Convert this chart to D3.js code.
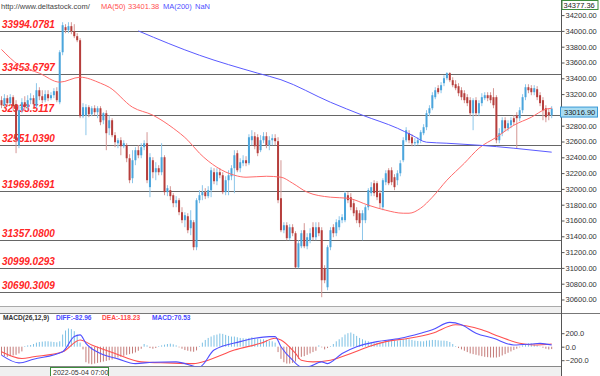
<!DOCTYPE html>
<html><head><meta charset="utf-8">
<script src="https://cdn.jsdelivr.net/npm/d3@7/dist/d3.min.js"></script>
<style>body{margin:0;background:#fff;}svg{display:block;font-family:"Liberation Sans",Arial,sans-serif;}</style>
</head><body>
<svg id="c" width="600" height="376"></svg>
<script>
const opens = [
33123,33059,33148,33085,33161,33072,32553,32996,33097,33034,
33123,33148,33047,33249,33173,33123,33199,33148,33186,33237,
33097,33730,34047,34009,34060,33996,33933,33882,32920,32933,
33034,32945,33021,32971,33021,32869,32958,32768,32869,32680,
32578,32616,32540,32553,32388,32135,32363,32490,32426,32528,
32578,32022,32363,32211,32262,32211,32401,31959,31984,31920,
31819,31857,31705,31604,31654,31502,31578,31262,31857,31920,
31959,31908,31984,32211,32097,32211,32173,31959,32110,32160,
32262,32452,32262,32325,32363,32325,32616,32667,32654,32490,
32616,32667,32553,32616,32642,32604,31882,31477,31540,31376,
31515,31439,31008,31274,31477,31274,31350,31515,31388,31515,
31477,30996,30755,31262,31515,31439,31515,31604,31604,31920,
31895,31819,31730,31692,31604,31604,31768,31946,32072,32072,
31946,31768,32085,32236,32236,32148,32110,32198,32363,32616,
32705,32654,32578,32578,32616,32705,32781,32958,33021,33161,
33275,33249,33338,33401,33465,33376,33325,33300,33249,33211,
33161,33123,32958,33123,32958,33085,33148,33186,33186,33161,
33161,32616,32705,32869,32768,32806,32895,32933,32895,32996,
33161,33287,33275,33224,33262,33186,33123,33021,32971,32933];
const highs = [
33173,33199,33186,33199,33186,33123,33059,33148,33173,33186,
33211,33186,33338,33287,33249,33249,33249,33224,33275,33287,
33756,34110,34085,34110,34110,34085,33971,33908,33085,33072,
33059,33047,33059,33047,33047,32971,32996,32933,32895,32718,
32642,32654,32616,32578,32439,32490,32528,32553,32578,32616,
32718,32452,32401,32338,32300,32578,32426,32047,32034,31946,
31908,31882,31768,31705,31692,31730,31604,31882,31984,32047,
32009,32034,32274,32262,32262,32262,32211,32160,32236,32300,
32490,32490,32388,32426,32414,32692,32743,32718,32692,32680,
32718,32718,32667,32692,32692,32654,32363,31578,31578,31553,
31553,31464,31350,31477,31566,31439,31502,31578,31578,31578,
31515,31034,31287,31515,31553,31616,31654,31680,31971,31959,
31946,31857,31768,31730,31730,31794,32009,32085,32110,32097,
31984,32135,32236,32262,32274,32186,32236,32363,32654,32781,
32743,32692,32642,32654,32743,32819,32996,33059,33224,33287,
33313,33351,33439,33477,33477,33414,33376,33338,33287,33249,
33199,33161,33148,33161,33123,33211,33224,33224,33224,33275,
33186,32768,32907,32907,32869,32907,32933,32971,33034,33199,
33325,33325,33313,33313,33300,33224,33161,33059,33021,33047];
const lows = [
33021,33034,33047,33059,32996,32452,32515,32958,32996,32996,
33072,33034,33021,33123,33085,33097,33110,33123,33148,33097,
33072,33692,33971,33971,33958,33908,33857,32895,32895,32680,
32907,32920,32933,32895,32806,32819,32490,32680,32654,32528,
32515,32426,32515,32338,32072,32072,32300,32388,32388,32490,
32072,31895,32135,32110,32173,32173,31920,31908,31857,31768,
31768,31667,31566,31515,31439,31414,31224,31224,31819,31857,
31870,31882,31895,32059,32047,32135,31933,31920,31920,32110,
31946,32211,32211,32287,32287,32300,32553,32502,32414,32465,
32578,32515,32490,32553,32553,31819,31452,31439,31350,31350,
31401,30996,30996,31249,31249,31236,31312,31350,31350,31401,
30629,30806,30717,31224,31388,31401,31477,31566,31578,31819,
31730,31654,31566,31515,31350,31566,31730,31908,31908,31857,
31756,31730,32047,32047,32047,31984,32047,32160,32338,32591,
32578,32540,32540,32553,32578,32680,32743,32920,32996,33135,
33199,33211,33300,33376,33351,33287,33249,33173,33123,33085,
33047,32920,32743,32920,32920,33047,33123,33110,33085,33021,
32578,32578,32667,32730,32730,32768,32806,32515,32857,32958,
33123,33211,33186,33186,33123,33047,32869,32844,32869,32895];
const closes = [
33059,33148,33085,33161,33047,32616,32996,33097,33034,33123,
33148,33072,33249,33173,33123,33199,33148,33186,33237,33123,
33730,34072,34009,34060,33996,33933,33882,32920,33034,33034,
32945,33021,32971,33021,32844,32958,32705,32869,32680,32591,
32616,32540,32578,32388,32110,32363,32490,32426,32528,32578,
32110,32401,32211,32262,32211,32401,31959,32009,31908,31819,
31857,31705,31604,31667,31477,31604,31262,31857,31920,31959,
31908,31984,32236,32097,32211,32173,31959,32110,32173,32262,
32426,32236,32338,32363,32325,32654,32667,32540,32452,32616,
32667,32553,32616,32642,32604,31857,31477,31540,31376,31515,
31439,31008,31312,31439,31274,31388,31439,31388,31515,31439,
30844,30844,31262,31477,31439,31578,31604,31642,31946,31857,
31768,31692,31604,31566,31692,31768,31984,32022,31946,31895,
31819,32110,32198,32072,32085,32022,32198,32325,32616,32743,
32616,32578,32591,32616,32718,32781,32958,33021,33186,33249,
33224,33313,33401,33465,33376,33313,33275,33211,33161,33123,
33085,32958,33123,32958,33085,33161,33186,33148,33123,33059,
32616,32705,32869,32768,32831,32869,32844,32895,32996,33161,
33287,33249,33224,33275,33161,33085,32996,32907,32933,33016.90];

const ma50Idx = [0,6,13,20,27,34,37,45,52,59,64,68,74,80,84,91,96,100,105,113,119,126,132,138,140,144,148,153,159,164,170,176,182,187,189];
const ma50Val = [33765,33566,33465,33351,33414,33338,33287,33034,32933,32768,32616,32452,32274,32173,32148,32160,32148,32072,31959,31895,31882,31794,31730,31692,31692,31756,31895,32110,32325,32515,32654,32806,32907,33009,33021];
const ma200Idx = [47,68,88,96,113,124,136,141,146,153,164,176,189];
const ma200Val = [34000,33692,33465,33382,33097,32933,32768,32680,32591,32578,32553,32515,32465];

const levels = [33994.0781,33453.6797,32933.5117,32551.0390,31969.8691,31357.0800,30999.0293,30690.3009];
const levelLabels = ["33994.0781","33453.6797","32933.5117","32551.0390","31969.8691","31357.0800","30999.0293","30690.3009"];
const priceTicks = [34200,34000,33800,33600,33400,33200,33000,32800,32600,32400,32200,32000,31800,31600,31400,31200,31000,30800,30600];
const lastPrice = 33016.90;
const topPrice = 34377.36;

const macdHist = [
-125,-140,-150,-140,-130,-120,-100,-70,10,20,
25,40,60,70,75,80,80,75,70,65,
80,180,240,270,260,230,180,60,-40,-230,
-250,-260,-250,-240,-230,-220,-210,-200,-190,-175,
-160,-150,-135,-120,-110,-100,-85,-60,-30,40,
20,-20,-30,-20,10,20,30,40,45,35,
20,-10,-30,-50,-60,-70,-75,-55,10,60,
100,130,150,170,180,195,190,175,160,150,
150,140,130,125,120,130,140,130,120,110,
110,100,90,80,60,-80,-180,-230,-250,-250,
-240,-220,-180,-150,-140,-120,-100,-80,-60,20,
-10,-40,-20,10,40,80,110,140,180,200,
210,190,160,130,110,90,80,70,60,55,
60,70,90,100,100,95,90,95,110,115,
110,100,90,85,80,80,90,95,100,100,
95,90,90,85,70,40,10,-20,-40,-60,
-80,-100,-110,-120,-130,-140,-150,-155,-160,-160,
-160,-150,-130,-110,-90,-70,-50,-30,-10,20,
40,50,45,35,20,5,-15,-30,-40,-35];
const diffIdx = [0,6,11,21,25,27,29,34,40,46,52,60,68,73,82,87,92,94,96,100,103,105,110,112,117,122,129,137,144,148,154,158,163,169,176,182,185,189];
const diffVal = [-125,-240,-185,-75,150,175,50,-100,-180,-250,-230,-225,-300,-50,75,125,150,150,0,-200,-300,-300,-225,-250,-100,0,75,125,200,250,360,325,200,125,25,40,50,25];
const deaIdx = [0,7,11,21,27,31,39,48,57,66,71,80,89,94,96,101,103,107,113,120,126,132,140,148,156,165,171,178,183,189];
const deaVal = [-75,-175,-150,-75,100,25,-100,-225,-240,-250,-200,-50,50,125,100,-100,-200,-225,-200,-100,0,75,125,200,325,250,150,50,25,40];
const macdTicks = [200,0,-200];
const macdHeader = [["MACD(26,12,9)","#333"],["DIFF:-82.96","#4848ff"],["DEA:-118.23","#ff4848"],["MACD:70.53","#4848ff"]];
const topHeader = [["http://www.deltastock.com/","#444"],["MA(50)","#ff5050"],["33401.38","#ff5050"],["MA(200)","#5050ff"],["NaN","#5050ff"]];
const dateLabel = "2022-05-04 07:00";

const svg = d3.select("#c");
const AX = 561.5;
const N = closes.length;
const x = d3.scaleLinear().domain([0, N-1]).range([1.5, 551.7]);
const y = d3.scaleLinear().domain([30600, 34200]).range([299.5, 15.1]);
const ym = d3.scaleLinear().domain([-200, 200]).range([360.2, 333.2]);

const defs = svg.append("defs");
defs.append("clipPath").attr("id","mainClip").append("rect").attr("x",0).attr("y",1).attr("width",AX).attr("height",305);
defs.append("clipPath").attr("id","macdClip").append("rect").attr("x",0).attr("y",313.5).attr("width",AX).attr("height",53);

// panel frames
svg.append("rect").attr("x",0).attr("y",306).attr("width",AX).attr("height",7).attr("fill","#f0f0f0");
svg.append("line").attr("x1",0).attr("x2",AX).attr("y1",306.5).attr("y2",306.5).attr("stroke","#aaa");
svg.append("line").attr("x1",0).attr("x2",600).attr("y1",313.5).attr("y2",313.5).attr("stroke","#777");
svg.append("rect").attr("x",0).attr("y",367).attr("width",AX).attr("height",9).attr("fill","#f0f0f0");
svg.append("line").attr("x1",0).attr("x2",AX).attr("y1",366.5).attr("y2",366.5).attr("stroke","#888");

const main = svg.append("g").attr("clip-path","url(#mainClip)");
// level lines
main.selectAll("line.lvl").data(levels).join("line").attr("class","lvl")
  .attr("x1",0).attr("x2",AX).attr("y1",d=>Math.round(y(d))+0.5).attr("y2",d=>Math.round(y(d))+0.5)
  .attr("stroke","#666").attr("stroke-width",1);
main.selectAll("text.lvl").data(levels).join("text").attr("class","lvl")
  .attr("x",2).attr("y",d=>Math.round(y(d))-3)
  .attr("font-size","10px").attr("font-weight","bold").attr("font-style","italic")
  .attr("fill","#ff2626").text((d,i)=>levelLabels[i]);

// candles
const idx = d3.range(N);
const up = i => closes[i] >= opens[i];
main.selectAll("line.wick").data(idx).join("line").attr("class","wick")
  .attr("x1",i=>x(i)).attr("x2",i=>x(i)).attr("y1",i=>y(highs[i])).attr("y2",i=>y(lows[i]))
  .attr("stroke",i=>up(i)?"#8cc6ea":"#d49694").attr("stroke-width",1);
main.selectAll("rect.body").data(idx).join("rect").attr("class","body")
  .attr("x",i=>x(i)-1).attr("width",2)
  .attr("y",i=>y(Math.max(opens[i],closes[i])))
  .attr("height",i=>Math.max(1,Math.abs(y(opens[i])-y(closes[i]))))
  .attr("fill",i=>up(i)?"#4ba5dc":"#b63e3c");

// moving averages
const line = d3.line().curve(d3.curveMonotoneX);
main.append("path").attr("d",line(ma50Idx.map((d,i)=>[x(d),y(ma50Val[i])])))
  .attr("fill","none").attr("stroke","#ff6a6a").attr("stroke-width",1);
main.append("path").attr("d",line(ma200Idx.map((d,i)=>[x(d),y(ma200Val[i])])))
  .attr("fill","none").attr("stroke","#5a5aff").attr("stroke-width",1);

// MACD panel
const mp = svg.append("g").attr("clip-path","url(#macdClip)");
mp.selectAll("line.h").data(idx).join("line").attr("class","h")
  .attr("x1",i=>x(i)).attr("x2",i=>x(i)).attr("y1",ym(0)).attr("y2",i=>ym(macdHist[i]))
  .attr("stroke",i=>macdHist[i]>=0?"#7cc0e4":"#c47a78").attr("stroke-width",1);
mp.append("path").attr("d",line(deaIdx.map((d,i)=>[x(d),ym(deaVal[i])])))
  .attr("fill","none").attr("stroke","#ff5050").attr("stroke-width",1.1);
mp.append("path").attr("d",line(diffIdx.map((d,i)=>[x(d),ym(diffVal[i])])))
  .attr("fill","none").attr("stroke","#5050ff").attr("stroke-width",1.1);

// right axis
svg.append("line").attr("x1",AX).attr("x2",AX).attr("y1",0).attr("y2",376).attr("stroke","#555");
const ax = svg.append("g").attr("transform",`translate(${AX},0)`)
  .call(d3.axisRight(y).tickValues(priceTicks).tickFormat(d3.format(".2f")).tickSize(3).tickPadding(1));
ax.select(".domain").remove();
ax.selectAll("text").attr("font-size","7.5px").attr("fill","#333").attr("font-family","Liberation Sans, Arial, sans-serif");
ax.selectAll("line").attr("stroke","#555");
const axm = svg.append("g").attr("transform",`translate(${AX},0)`)
  .call(d3.axisRight(ym).tickValues(macdTicks).tickFormat(d3.format(".1f")).tickSize(3).tickPadding(1));
axm.select(".domain").remove();
axm.selectAll("text").attr("font-size","7.5px").attr("fill","#333").attr("font-family","Liberation Sans, Arial, sans-serif");
axm.selectAll("line").attr("stroke","#555");

// current price box
const ly = y(lastPrice) + 3.5;
svg.append("rect").attr("x",560.5).attr("y",ly-5).attr("width",37).attr("height",10)
  .attr("fill","#a8dcf2").attr("stroke","#3a98d6");
svg.append("text").attr("x",564).attr("y",ly+3).attr("font-size","7.5px").attr("fill","#222").text(d3.format(".2f")(lastPrice));
// top box
svg.append("rect").attr("x",562).attr("y",0.5).attr("width",36).attr("height",9)
  .attr("fill","#fff").attr("stroke","#3c8c3c");
svg.append("text").attr("x",563.5).attr("y",8).attr("font-size","7.5px").attr("fill","#222").text(d3.format(".2f")(topPrice));

// headers
const hx = [1,101,128,163,195];
svg.selectAll("text.th").data(topHeader).join("text").attr("class","th")
  .attr("x",(d,i)=>hx[i]).attr("y",8.5).attr("font-size","7.5px").attr("fill",d=>d[1]).text(d=>d[0]);
const mx = [3,56,102,152];
svg.selectAll("text.mh").data(macdHeader).join("text").attr("class","mh")
  .attr("x",(d,i)=>mx[i]).attr("y",319.5).attr("font-size","6.6px").attr("font-weight","bold").attr("fill",d=>d[1]).text(d=>d[0]);

// date label
svg.append("rect").attr("x",50.5).attr("y",367.5).attr("width",58).attr("height",9)
  .attr("fill","#fff").attr("stroke","#3c8c3c");
svg.append("text").attr("x",53).attr("y",374.5).attr("font-size","7px").attr("fill","#333").text(dateLabel);
</script>
</body></html>
